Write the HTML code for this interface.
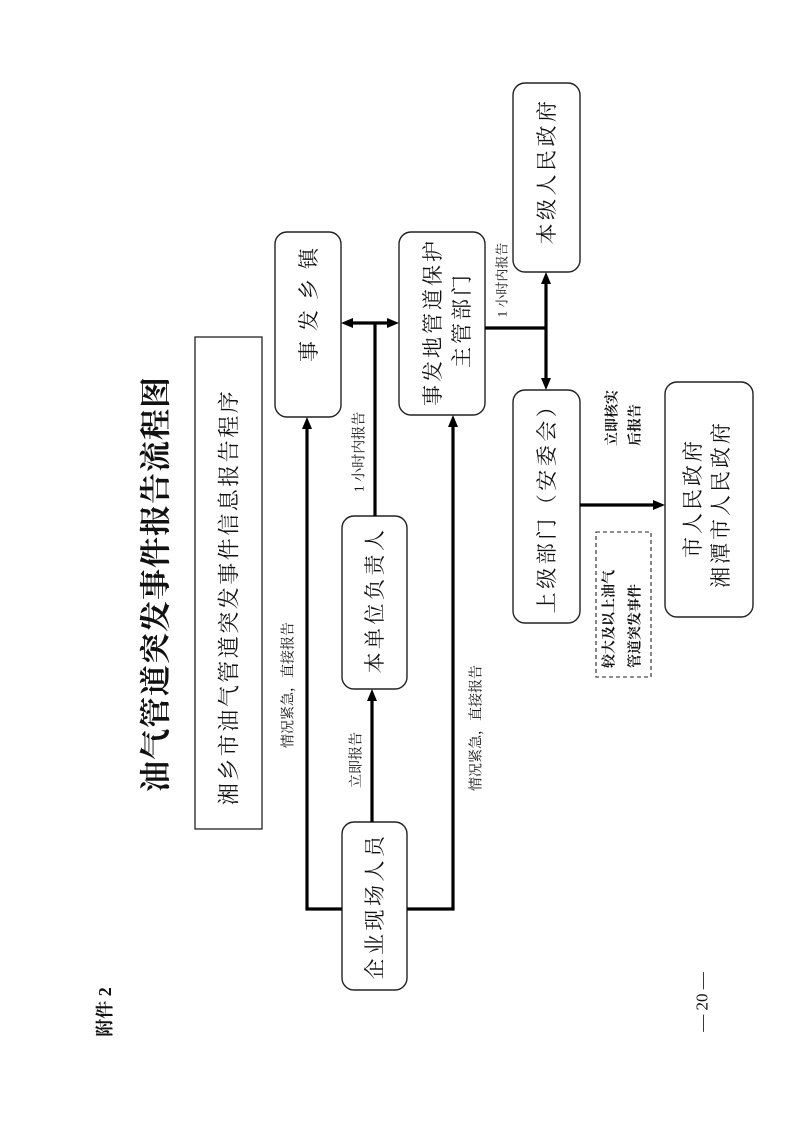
<!DOCTYPE html>
<html><head><meta charset="utf-8"><style>
html,body{margin:0;padding:0;background:#fff;}
svg{display:block;}
text{font-family:"Liberation Serif","Noto Serif CJK SC",serif;fill:#111;}
.b{font-family:"Liberation Sans","Noto Sans CJK SC",sans-serif;}
</style></head><body>
<svg width="794" height="1122" viewBox="0 0 794 1122" xmlns="http://www.w3.org/2000/svg">
<rect width="794" height="1122" fill="#fff"/>
<!-- header -->
<text transform="translate(105,1012) rotate(-90)" text-anchor="middle" dominant-baseline="central" font-size="18" font-weight="bold">附件 2</text>
<text transform="translate(702,1002) rotate(-90)" text-anchor="middle" dominant-baseline="central" font-size="17">— 20 —</text>
<text transform="translate(156,584) rotate(-90)" text-anchor="middle" dominant-baseline="central" font-size="31" font-weight="bold" letter-spacing="1">油气管道突发事件报告流程图</text>
<rect x="195" y="337" width="67" height="492" fill="none" stroke="#222" stroke-width="1.3"/>
<text transform="translate(229,597) rotate(-90)" text-anchor="middle" dominant-baseline="central" font-size="22" letter-spacing="2.5">湘乡市油气管道突发事件信息报告程序</text>

<g fill="none" stroke="#222" stroke-width="1.4">
<rect x="275" y="232" width="66" height="185" rx="12"/>
<rect x="399" y="232" width="86" height="183" rx="12"/>
<rect x="513" y="83" width="67" height="189" rx="12"/>
<rect x="513" y="390" width="67" height="233" rx="12"/>
<rect x="342" y="516" width="65" height="173" rx="12"/>
<rect x="342" y="822" width="65" height="168" rx="12"/>
<rect x="665" y="382" width="88" height="235" rx="12"/>
<rect x="596" y="532" width="55" height="145" stroke-dasharray="4,3" stroke-width="1.1"/>
</g>

<!-- lines -->
<g stroke="#000" stroke-width="3.2" fill="none">
<polyline points="342,909 307,909 307,428"/>
<polyline points="407,909 453,909 453,426"/>
<line x1="372" y1="822" x2="372" y2="700"/>
<line x1="375" y1="516" x2="375" y2="323"/>
<line x1="352" y1="323" x2="388" y2="323"/>
<line x1="485" y1="328" x2="546" y2="328"/>
<line x1="546" y1="283" x2="546" y2="379"/>
<line x1="580" y1="505" x2="654" y2="505"/>
</g>
<g fill="#000">
<polygon points="307,417 302,429 312,429"/>
<polygon points="453,415 448,427 458,427"/>
<polygon points="372,689 367,701 377,701"/>
<polygon points="341,323 353,318 353,328"/>
<polygon points="399,323 387,318 387,328"/>
<polygon points="546,272 541,284 551,284"/>
<polygon points="546,390 541,378 551,378"/>
<polygon points="665,505 653,500 653,510"/>
</g>

<!-- node labels -->
<g font-size="21" text-anchor="middle" dominant-baseline="central">
<text transform="translate(309,300) rotate(-90)" letter-spacing="10">事发乡镇</text>
<text transform="translate(433,322) rotate(-90)" letter-spacing="3">事发地管道保护</text>
<text transform="translate(462,320) rotate(-90)" letter-spacing="3">主管部门</text>
<text transform="translate(547,171) rotate(-90)" letter-spacing="3.5">本级人民政府</text>
<text transform="translate(547,503) rotate(-90)" letter-spacing="3.5">上级部门（安委会）</text>
<text transform="translate(375,600) rotate(-90)" letter-spacing="3.5">本单位负责人</text>
<text transform="translate(375,906) rotate(-90)" letter-spacing="3.5">企业现场人员</text>
<text transform="translate(693,498) rotate(-90)" letter-spacing="3">市人民政府</text>
<text transform="translate(721,504) rotate(-90)" letter-spacing="3">湘潭市人民政府</text>
</g>

<!-- connector labels -->
<g font-size="14" text-anchor="middle" dominant-baseline="central">
<text transform="translate(289,685) rotate(-90)">情况紧急，直接报告</text>
<text transform="translate(477,728) rotate(-90)">情况紧急，直接报告</text>
<text transform="translate(357,760) rotate(-90)">立即报告</text>
<text transform="translate(360,452) rotate(-90)">1 小时内报告</text>
<text transform="translate(502,280) rotate(-90)" font-size="13">1 小时内报告</text>
</g>
<g font-size="14" class="b" font-weight="bold" dominant-baseline="central">
<text transform="translate(613,446) rotate(-90)">立即核实</text>
<text transform="translate(636,446) rotate(-90)">后报告</text>
<text transform="translate(610,668) rotate(-90)">较大及以上油气</text>
<text transform="translate(636,668) rotate(-90)">管道突发事件</text>
</g>
</svg>
</body></html>
